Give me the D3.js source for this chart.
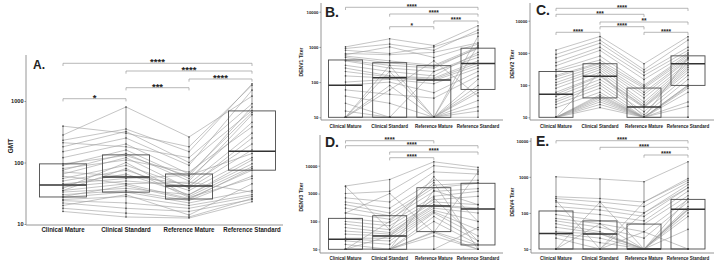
<!DOCTYPE html>
<html>
<head>
<meta charset="utf-8">
<script src="https://cdn.jsdelivr.net/npm/d3@7"></script>
<style>
  body { margin: 0; background: #fff; }
  svg text { font-family: "Liberation Sans", Arial, sans-serif; font-weight: bold; fill: #222; }
</style>
</head>
<body>
<svg id="chart" width="717" height="262"></svg>
<script>
const categories = ["Clinical Mature", "Clinical Standard", "Reference Mature", "Reference Standard"];
const tickValues = [10, 100, 1000, 10000];

// each row is one subject: [Clinical Mature, Clinical Standard, Reference Mature, Reference Standard]
const gmtRows = [
    [390, 300, 180, 1800], [280, 800, 260, 1200], [230, 350, 150, 1900], [210, 180, 120, 900],
    [180, 320, 100, 700], [150, 250, 90, 1500], [120, 200, 65, 650], [95, 130, 60, 800],
    [90, 160, 55, 450], [80, 110, 70, 380], [75, 140, 50, 600], [70, 60, 45, 300],
    [65, 120, 38, 160], [55, 90, 40, 250], [50, 75, 35, 120], [45, 55, 62, 140],
    [43, 65, 30, 95], [40, 50, 42, 200], [38, 100, 28, 85], [35, 45, 26, 75],
    [33, 38, 30, 110], [30, 35, 24, 60], [28, 42, 25, 80], [27, 33, 22, 35],
    [25, 28, 20, 30], [24, 22, 18, 28], [22, 18, 16, 25], [20, 30, 14, 45],
    [18, 15, 13, 26], [16, 13, 12.5, 23], [60, 45, 48, 33], [35, 80, 27, 55]
];
const gmtQ1 = [27.5, 33, 25.5, 75];
const gmtMedian = [43, 58, 41.5, 153];
const gmtQ3 = [95, 133, 65, 690];
const gmtSig = [[0, 3, "****"], [1, 3, "****"], [2, 3, "****"], [1, 2, "***"], [0, 1, "*"]];

const denv1Rows = [
    [1000, 1700, 1100, 4000], [900, 1200, 800, 3000], [800, 650, 1000, 2500], [650, 600, 700, 1300],
    [600, 1000, 500, 1200], [550, 400, 300, 1000], [500, 350, 280, 900], [420, 300, 250, 950],
    [400, 250, 200, 600], [300, 200, 150, 700], [250, 150, 130, 400], [200, 140, 120, 350],
    [150, 130, 110, 300], [100, 120, 90, 250], [82, 100, 50, 200], [60, 45, 35, 150],
    [40, 25, 10, 120], [25, 10, 10, 60], [10, 300, 10, 80], [10, 200, 10, 2000],
    [10, 10, 10, 50], [10, 10, 10, 30], [10, 10, 200, 500], [10, 10, 10, 20],
    [10, 80, 10, 1100], [10, 10, 10, 15], [10, 60, 400, 40], [15, 10, 10, 10]
];
const denv1Q1 = [10, 10, 10, 62];
const denv1Median = [82, 133, 114, 340];
const denv1Q3 = [425, 355, 293, 920];
const denv1Sig = [[0, 3, "****"], [1, 3, "****"], [2, 3, "****"], [1, 2, "*"]];

const denv2Rows = [
    [1230, 3250, 460, 3200], [900, 2500, 300, 2500], [700, 2000, 250, 1500], [500, 1500, 200, 1200],
    [400, 1200, 150, 1000], [300, 800, 100, 900], [265, 600, 90, 800], [200, 500, 80, 700],
    [180, 460, 60, 650], [150, 400, 50, 600], [120, 350, 40, 500], [100, 300, 30, 460],
    [80, 250, 25, 400], [60, 200, 22, 350], [52, 187, 21, 300], [45, 150, 20, 250],
    [35, 120, 15, 200], [30, 100, 12, 150], [25, 80, 10, 100], [20, 60, 10, 98],
    [10, 50, 10, 90], [10, 45, 10, 80], [10, 40, 10, 60], [10, 35, 10, 30],
    [10, 30, 10, 22], [10, 25, 10, 10], [10, 20, 10, 10], [10, 250, 10, 700]
];
const denv2Q1 = [10, 40, 10, 98];
const denv2Median = [52, 187, 21, 460];
const denv2Q3 = [265, 460, 81, 810];
const denv2Sig = [[0, 3, "****"], [0, 2, "***"], [1, 3, "**"], [1, 2, "****"], [0, 1, "****"], [2, 3, "****"]];

const denv3Rows = [
    [1870, 3200, 13800, 8700], [1000, 1200, 10000, 7000], [700, 500, 6000, 5000], [500, 300, 3000, 3000],
    [400, 200, 2000, 2500], [300, 160, 1620, 2340], [200, 120, 1200, 1500], [130, 90, 800, 1200],
    [100, 70, 600, 800], [80, 50, 500, 400], [60, 40, 400, 300], [45, 35, 355, 280],
    [35, 30, 300, 200], [25, 25, 250, 100], [23, 20, 220, 50], [20, 15, 200, 30],
    [15, 10, 150, 20], [10, 10, 100, 15], [10, 10, 43, 14], [10, 10, 40, 10],
    [10, 10, 30, 10], [10, 10, 10, 10], [10, 10, 10, 60], [10, 100, 2500, 10],
    [10, 30, 700, 20], [10, 10, 1300, 400], [200, 1000, 40, 6000], [1800, 50, 4000, 100]
];
const denv3Q1 = [10, 10, 43, 14.3];
const denv3Median = [23, 30, 355, 278];
const denv3Q3 = [129, 160, 1620, 2340];
const denv3Sig = [[0, 2, "****"], [0, 3, "****"], [1, 3, "****"], [1, 2, "****"]];

const denv4Rows = [
    [1000, 870, 730, 2600], [280, 250, 200, 800], [250, 200, 150, 700], [200, 150, 100, 600],
    [150, 120, 80, 500], [113, 90, 60, 400], [90, 60, 49, 300], [70, 50, 30, 237],
    [60, 40, 20, 200], [50, 30, 10, 150], [40, 27, 10, 130], [30, 26, 10, 126],
    [27, 20, 10, 120], [25, 15, 10, 100], [20, 10, 10, 80], [10, 10, 10, 35],
    [10, 10, 10, 10], [10, 10, 10, 10], [10, 10, 10, 10], [10, 10, 200, 900],
    [10, 50, 10, 250], [10, 10, 30, 10], [10, 200, 10, 10], [220, 10, 10, 10],
    [10, 10, 100, 500]
];
const denv4Q1 = [10, 10, 10, 10];
const denv4Median = [27, 26, 10, 126];
const denv4Q3 = [113, 60, 49, 237];
const denv4Sig = [[0, 3, "****"], [1, 3, "****"], [2, 3, "****"]];

/** One paired box plot panel. */
class Panel {
    constructor(svg, data, layout) {
        this.svg = svg;
        this.data = data;
        this.lay = layout;
        this.x = d3.scalePoint().domain(categories).range([layout.xFrom, layout.xTo]);
        this.y = d3.scaleLog().domain([10, 10000]).range([layout.y10, layout.y10k]);
    }

    draw() {
        let lay = this.lay, x = this.x, y = this.y, d = this.data;
        let g = this.svg.append('g');

        // axes
        g.append('line').attr('x1', lay.axisX).attr('x2', lay.axisX)
            .attr('y1', lay.axisTop).attr('y2', lay.baseY)
            .attr('stroke', '#8a8a8a').attr('stroke-width', 0.9);
        g.append('line').attr('x1', lay.axisX).attr('x2', lay.axisEnd)
            .attr('y1', lay.baseY).attr('y2', lay.baseY)
            .attr('stroke', '#8a8a8a').attr('stroke-width', 0.9);

        let yAxis = d3.axisLeft(y)
            .tickValues(tickValues.filter(v => y(v) >= lay.axisTop - 1))
            .tickFormat(d3.format('d'))
            .tickSize(1.5);
        let ax = g.append('g').attr('transform', `translate(${lay.axisX},0)`).call(yAxis);
        ax.select('.domain').remove();
        ax.selectAll('line').attr('stroke', '#8a8a8a');
        ax.selectAll('text').attr('font-size', lay.tickFont).attr('x', -2.5)
            .style('font-family', '"Liberation Sans", Arial, sans-serif').style('font-weight', 'bold').attr('fill', '#222');

        // axis title
        g.append('text')
            .attr('transform', `translate(${lay.titleX},${lay.titleY}) rotate(-90)`)
            .attr('text-anchor', 'middle')
            .attr('font-size', lay.titleFont)
            .text(lay.title);

        // category labels (slightly condensed)
        g.selectAll('.cat').data(categories).enter().append('text')
            .attr('transform', c => `translate(${x(c)},${lay.catY}) scale(0.87,1)`)
            .attr('text-anchor', 'middle')
            .attr('font-size', lay.catFont)
            .text(c => c);

        // paired subject lines
        let line = d3.line().x((v, i) => x(categories[i])).y(v => y(v));
        g.selectAll('.subject').data(d.rows).enter().append('path')
            .attr('d', line)
            .attr('fill', 'none')
            .attr('stroke', '#9d9d9d')
            .attr('stroke-width', 0.6);

        // min-max line per category
        categories.forEach((c, i) => {
            let col = d.rows.map(r => r[i]);
            g.append('line').attr('x1', x(c)).attr('x2', x(c))
                .attr('y1', y(d3.min(col))).attr('y2', y(d3.max(col)))
                .attr('stroke', '#666').attr('stroke-width', 0.7);
        });

        // boxes
        categories.forEach((c, i) => {
            g.append('rect')
                .attr('x', x(c) - lay.boxW / 2).attr('width', lay.boxW)
                .attr('y', y(d.q3[i])).attr('height', y(d.q1[i]) - y(d.q3[i]))
                .attr('fill', 'none').attr('stroke', '#4a4a4a').attr('stroke-width', 0.9);
            g.append('line')
                .attr('x1', x(c) - lay.boxW / 2).attr('x2', x(c) + lay.boxW / 2)
                .attr('y1', y(d.median[i])).attr('y2', y(d.median[i]))
                .attr('stroke', '#333').attr('stroke-width', 1.5);
        });

        // points
        d.rows.forEach(r => {
            g.selectAll(null).data(r).enter().append('circle')
                .attr('cx', (v, i) => x(categories[i]))
                .attr('cy', v => y(v))
                .attr('r', 0.8)
                .attr('fill', '#444');
        });

        // significance brackets
        d.sig.forEach((s, k) => {
            let x1 = x(categories[s[0]]), x2 = x(categories[s[1]]), by = lay.bracketY[k];
            g.append('path')
                .attr('d', `M${x1},${by + 2.7}V${by}H${x2}V${by + 2.7}`)
                .attr('fill', 'none').attr('stroke', '#9a9a9a').attr('stroke-width', 0.7);
            g.append('text')
                .attr('x', (x1 + x2) / 2).attr('y', by + lay.starFont * 0.2)
                .attr('text-anchor', 'middle')
                .attr('font-size', lay.starFont)
                .text(s[2]);
        });

        // panel letter
        g.append('text')
            .attr('x', lay.letterX).attr('y', lay.letterY)
            .attr('font-size', lay.letterFont)
            .text(lay.letter);
    }
}

let svg = d3.select('#chart');

let small = { boxW: 34, tickFont: 4.3, titleFont: 5, catFont: 5.2, starFont: 6.5, letterFont: 14 };

new Panel(svg,
    { rows: gmtRows, q1: gmtQ1, median: gmtMedian, q3: gmtQ3, sig: gmtSig },
    { letter: 'A.', title: 'GMT', axisX: 26, axisEnd: 283, axisTop: 55, baseY: 225, y10: 224, y10k: 39.5,
      xFrom: 63, xTo: 252, boxW: 47, tickFont: 5.6, titleFont: 6.5, catFont: 7, starFont: 9.5, letterFont: 12,
      letterX: 33, letterY: 69, titleX: 13, titleY: 146, catY: 231.5,
      bracketY: [63.3, 71, 79, 87.7, 98.7] }).draw();

new Panel(svg,
    { rows: denv1Rows, q1: denv1Q1, median: denv1Median, q3: denv1Q3, sig: denv1Sig },
    Object.assign({}, small, { letter: 'B.', title: 'DENV1 Titer', axisX: 321, axisEnd: 503, axisTop: 3, baseY: 120,
      y10: 117.3, y10k: 11.7, xFrom: 345.5, xTo: 478, letterX: 325, letterY: 17, titleX: 303, titleY: 62, catY: 128,
      bracketY: [7.3, 14, 21, 26.7] })).draw();

new Panel(svg,
    { rows: denv2Rows, q1: denv2Q1, median: denv2Median, q3: denv2Q3, sig: denv2Sig },
    Object.assign({}, small, { letter: 'C.', title: 'DENV2 Titer', axisX: 530, axisEnd: 714, axisTop: 3, baseY: 120,
      y10: 117.3, y10k: 20.7, xFrom: 556, xTo: 688, letterX: 536, letterY: 15, titleX: 514, titleY: 64, catY: 128,
      bracketY: [8.3, 14.3, 22, 26.7, 32.3, 32.3] })).draw();

new Panel(svg,
    { rows: denv3Rows, q1: denv3Q1, median: denv3Median, q3: denv3Q3, sig: denv3Sig },
    Object.assign({}, small, { letter: 'D.', title: 'DENV3 Titer', axisX: 320, axisEnd: 503, axisTop: 135, baseY: 253,
      y10: 249.3, y10k: 165.7, xFrom: 345.5, xTo: 478, letterX: 325, letterY: 147, titleX: 303, titleY: 197, catY: 260,
      bracketY: [140.7, 145.7, 152, 157.7] })).draw();

new Panel(svg,
    { rows: denv4Rows, q1: denv4Q1, median: denv4Median, q3: denv4Q3, sig: denv4Sig },
    Object.assign({}, small, { letter: 'E.', title: 'DENV4 Titer', axisX: 531, axisEnd: 714, axisTop: 138, baseY: 253,
      y10: 249, y10k: 140.7, xFrom: 556, xTo: 688, letterX: 536, letterY: 146, titleX: 514, titleY: 202, catY: 260,
      bracketY: [140.7, 147.3, 155] })).draw();
</script>
</body>
</html>
